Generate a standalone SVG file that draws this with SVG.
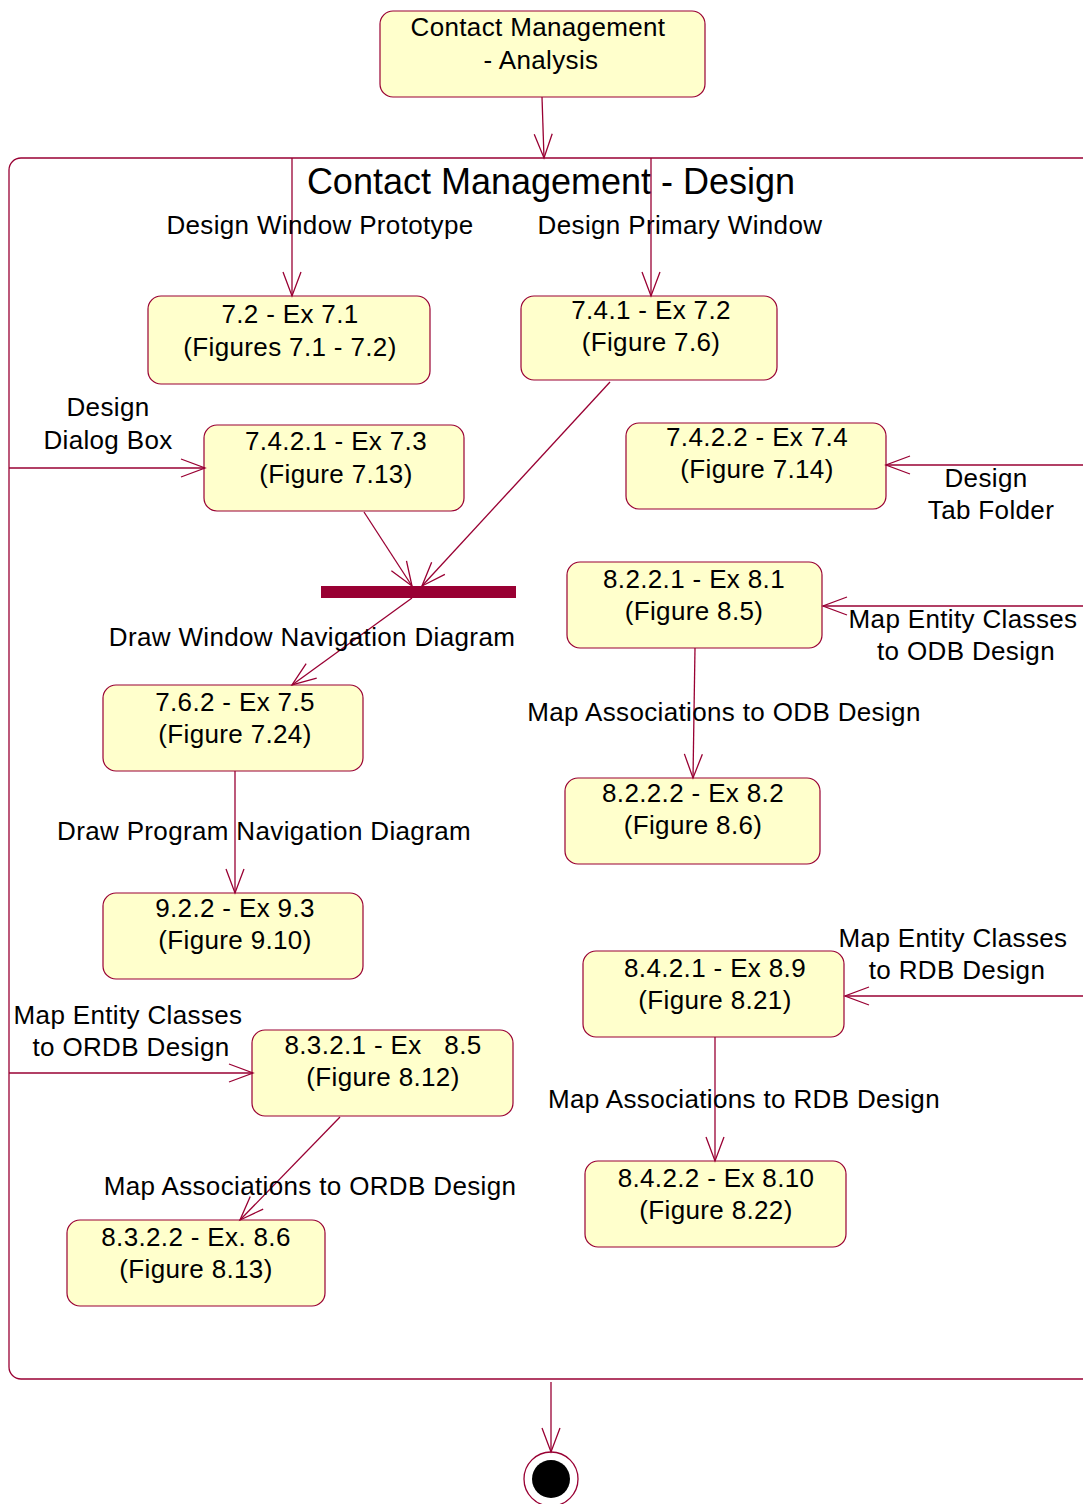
<svg xmlns="http://www.w3.org/2000/svg" width="1083" height="1504" viewBox="0 0 1083 1504">
<style>
.n{fill:#FFFFCC;stroke:#990033;stroke-width:1.2}
.t{font-family:"Liberation Sans",Arial,sans-serif;font-size:26px;fill:#000;text-anchor:middle;letter-spacing:0.35px}
.c{fill:none;stroke:#990033;stroke-width:1.3}
</style>
<defs>
<marker id="a" markerUnits="userSpaceOnUse" orient="auto" refX="0" refY="0" markerWidth="30" markerHeight="24" viewBox="-26 -12 28 24" overflow="visible">
<path d="M-24,-9 L0,0 L-24,9" fill="none" stroke="#990033" stroke-width="1.3"/>
</marker>
</defs>
<rect width="1083" height="1504" fill="#fff"/>

<g id="container">
<rect x="9" y="158" width="1095" height="1221" rx="12" fill="none" stroke="#990033" stroke-width="1.3"/>
<text class="t" x="551" y="194" style="font-size:36px;letter-spacing:0">Contact Management - Design</text>
</g>

<g id="analysis"><rect class="n" x="380" y="11" width="325" height="86" rx="13"/>
<text class="t" x="538" y="36">Contact Management</text><text class="t" x="541" y="69">- Analysis</text></g>

<g id="n72"><rect class="n" x="148" y="296" width="282" height="88" rx="13"/>
<text class="t" x="290" y="323">7.2 - Ex 7.1</text><text class="t" x="290" y="356">(Figures 7.1 - 7.2)</text></g>

<g id="n741"><rect class="n" x="521" y="296" width="256" height="84" rx="13"/>
<text class="t" x="651" y="319">7.4.1 - Ex 7.2</text><text class="t" x="651" y="351">(Figure 7.6)</text></g>

<g id="n7421"><rect class="n" x="204" y="425" width="260" height="86" rx="13"/>
<text class="t" x="336" y="450">7.4.2.1 - Ex 7.3</text><text class="t" x="336" y="483">(Figure 7.13)</text></g>

<g id="n7422"><rect class="n" x="626" y="423" width="260" height="86" rx="13"/>
<text class="t" x="757" y="446">7.4.2.2 - Ex 7.4</text><text class="t" x="757" y="478">(Figure 7.14)</text></g>

<g id="n8221"><rect class="n" x="567" y="562" width="255" height="86" rx="13"/>
<text class="t" x="694" y="588">8.2.2.1 - Ex 8.1</text><text class="t" x="694" y="620">(Figure 8.5)</text></g>

<g id="n762"><rect class="n" x="103" y="685" width="260" height="86" rx="13"/>
<text class="t" x="235" y="711">7.6.2 - Ex 7.5</text><text class="t" x="235" y="743">(Figure 7.24)</text></g>

<g id="n8222"><rect class="n" x="565" y="778" width="255" height="86" rx="13"/>
<text class="t" x="693" y="802">8.2.2.2 - Ex 8.2</text><text class="t" x="693" y="834">(Figure 8.6)</text></g>

<g id="n922"><rect class="n" x="103" y="893" width="260" height="86" rx="13"/>
<text class="t" x="235" y="917">9.2.2 - Ex 9.3</text><text class="t" x="235" y="949">(Figure 9.10)</text></g>

<g id="n8421"><rect class="n" x="583" y="951" width="261" height="86" rx="13"/>
<text class="t" x="715" y="977">8.4.2.1 - Ex 8.9</text><text class="t" x="715" y="1009">(Figure 8.21)</text></g>

<g id="n8321"><rect class="n" x="252" y="1030" width="261" height="86" rx="13"/>
<text class="t" x="383" y="1054" xml:space="preserve">8.3.2.1 - Ex   8.5</text><text class="t" x="383" y="1086">(Figure 8.12)</text></g>

<g id="n8322"><rect class="n" x="67" y="1220" width="258" height="86" rx="13"/>
<text class="t" x="196" y="1246">8.3.2.2 - Ex. 8.6</text><text class="t" x="196" y="1278">(Figure 8.13)</text></g>

<g id="n8422"><rect class="n" x="585" y="1161" width="261" height="86" rx="13"/>
<text class="t" x="716" y="1187">8.4.2.2 - Ex 8.10</text><text class="t" x="716" y="1219">(Figure 8.22)</text></g>

<g id="sync"><rect x="321" y="586" width="195" height="12" fill="#990033"/></g>

<g id="final"><circle cx="551" cy="1479" r="27" fill="#fff" stroke="#990033" stroke-width="1.3"/><circle cx="551" cy="1479" r="19" fill="#000"/></g>

<g id="connectors">
<line class="c" x1="542" y1="97" x2="544" y2="158" marker-end="url(#a)"/>
<line class="c" x1="292" y1="158" x2="292" y2="296" marker-end="url(#a)"/>
<line class="c" x1="651" y1="158" x2="651" y2="296" marker-end="url(#a)"/>
<line class="c" x1="9" y1="468" x2="205" y2="468" marker-end="url(#a)"/>
<line class="c" x1="1083" y1="465" x2="886" y2="465" marker-end="url(#a)"/>
<line class="c" x1="364" y1="512" x2="412" y2="586" marker-end="url(#a)"/>
<line class="c" x1="610" y1="382" x2="422" y2="586" marker-end="url(#a)"/>
<line class="c" x1="412" y1="598" x2="292" y2="685" marker-end="url(#a)"/>
<line class="c" x1="235" y1="771" x2="235" y2="893" marker-end="url(#a)"/>
<line class="c" x1="1083" y1="606" x2="823" y2="606" marker-end="url(#a)"/>
<line class="c" x1="695" y1="648" x2="693" y2="778" marker-end="url(#a)"/>
<line class="c" x1="1083" y1="996" x2="845" y2="996" marker-end="url(#a)"/>
<line class="c" x1="715" y1="1037" x2="715" y2="1161" marker-end="url(#a)"/>
<line class="c" x1="9" y1="1073" x2="253" y2="1073" marker-end="url(#a)"/>
<line class="c" x1="340" y1="1117" x2="240" y2="1220" marker-end="url(#a)"/>
<line class="c" x1="551" y1="1382" x2="551" y2="1452" marker-end="url(#a)"/>
<text class="t" x="320" y="234">Design Window Prototype</text>
<text class="t" x="680" y="234">Design Primary Window</text>
<text class="t" x="108" y="416">Design</text>
<text class="t" x="108" y="449">Dialog Box</text>
<text class="t" x="986" y="487">Design</text>
<text class="t" x="991" y="519">Tab Folder</text>
<text class="t" x="312" y="646">Draw Window Navigation Diagram</text>
<text class="t" x="264" y="840">Draw Program Navigation Diagram</text>
<text class="t" x="963" y="628">Map Entity Classes</text>
<text class="t" x="966" y="660">to ODB Design</text>
<text class="t" x="724" y="721">Map Associations to ODB Design</text>
<text class="t" x="953" y="947">Map Entity Classes</text>
<text class="t" x="957" y="979">to RDB Design</text>
<text class="t" x="744" y="1108">Map Associations to RDB Design</text>
<text class="t" x="128" y="1024">Map Entity Classes</text>
<text class="t" x="131" y="1056">to ORDB Design</text>
<text class="t" x="310" y="1195">Map Associations to ORDB Design</text>
</g>
</svg>
